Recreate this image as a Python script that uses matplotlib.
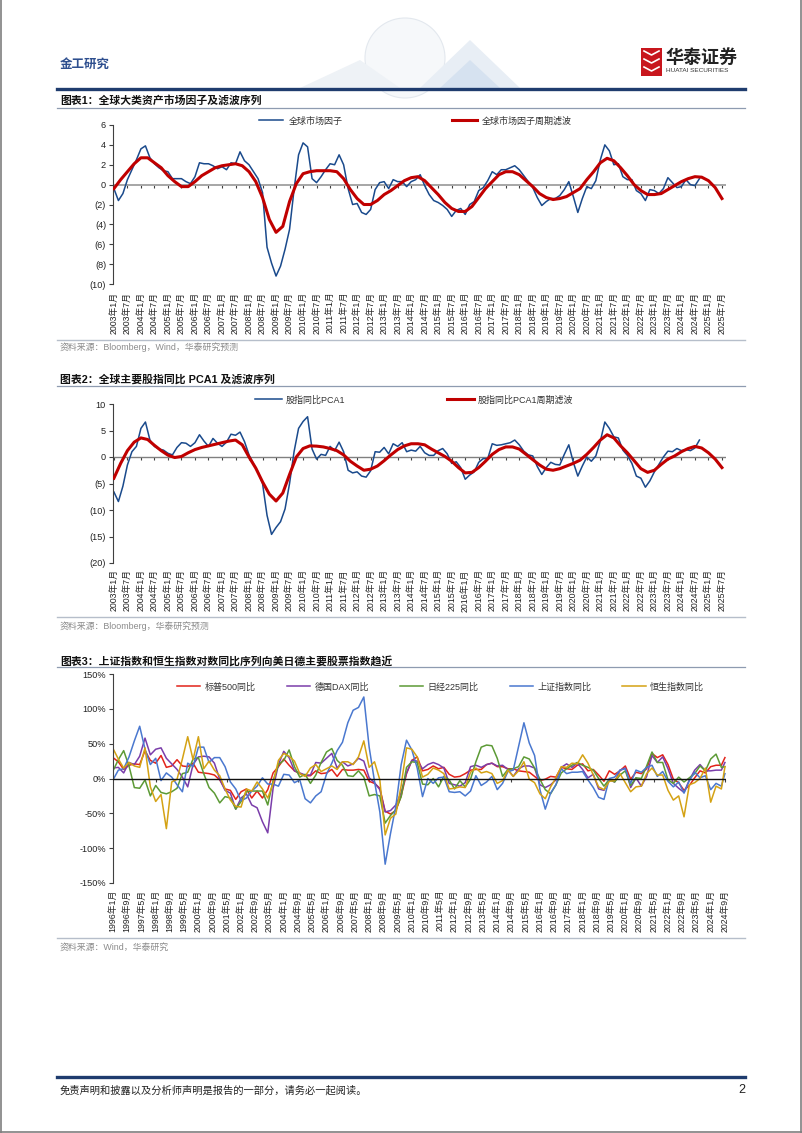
import numpy as np
import matplotlib
matplotlib.use("Agg")
import matplotlib.pyplot as plt
from matplotlib.lines import Line2D
from matplotlib.patches import Rectangle, Ellipse, Polygon

plt.rcParams["font.family"] = ["Liberation Sans", "Noto Sans CJK SC"]
plt.rcParams["axes.unicode_minus"] = False

# ---------------- data ----------------
# chart 1: global market factor (every 2 months from 2003-01) and its cycle filter (every 3 months)
factor = [-0.4, -1.6, -0.9, 0.5, 1.5, 2.5, 3.6, 3.9, 2.7, 2.1,
          1.7, 1.4, 1.3, 0.6, 0.6, 0.6, 0.3, 0.1, 0.8, 2.2,
          2.1, 2.1, 1.9, 1.6, 1.8, 1.5, 2.2, 2.1, 3.3, 2.4,
          2.0, 1.3, 0.6, -0.8, -6.3, -7.9, -9.2, -8.2, -6.5, -4.5,
          -0.5, 3.0, 4.2, 3.8, 0.6, 0.2, 0.8, 1.5, 2.1, 2.0,
          3.0, 2.0, -0.4, -2.0, -1.9, -2.8, -3.0, -2.5, -0.5, 0.2,
          0.3, -0.4, 0.5, 0.3, 0.3, -0.2, 0.3, 0.5, 1.0, -0.1,
          -1.0, -1.6, -1.8, -2.1, -2.5, -3.2, -2.6, -2.4, -3.0, -2.0,
          -1.7, -0.6, -0.3, 0.4, 1.3, 1.0, 1.5, 1.5, 1.7, 1.9,
          1.5, 0.9, 0.3, -0.3, -1.3, -2.1, -1.7, -1.4, -1.4, -1.1,
          -0.5, 0.3, -1.2, -2.8, -1.4, -0.2, -0.4, 0.4, 2.5, 4.0,
          3.4, 2.0, 2.1, 0.8, 0.5, 0.5, -0.6, -0.9, -1.6, -0.5,
          -0.6, -0.9, -0.4, 0.7, 0.2, -0.3, -0.2, 0.5, 0.0, -0.1,
          0.6]
factor_filter = [-0.4, 0.5, 1.3, 2.1, 2.7, 2.7, 2.2, 1.7, 0.9, 0.3,
                 -0.2, -0.2, 0.3, 0.9, 1.3, 1.7, 1.9, 2.0, 2.1, 1.9,
                 1.3, 0.3, -1.3, -3.5, -4.8, -4.2, -1.7, 0.1, 1.1, 1.3,
                 1.4, 1.4, 1.4, 1.3, 0.6, -0.5, -1.4, -2.0, -2.0, -1.6,
                 -1.0, -0.6, -0.1, 0.4, 0.7, 0.8, 0.4, -0.3, -1.0, -1.8,
                 -2.4, -2.7, -2.7, -2.2, -1.3, -0.4, 0.3, 1.0, 1.3, 1.3,
                 1.0, 0.4, -0.2, -0.9, -1.3, -1.5, -1.4, -1.2, -0.8, -0.4,
                 0.5, 1.3, 2.2, 2.65, 2.4, 1.7, 0.9, 0.0, -0.6, -1.0,
                 -1.0, -0.9, -0.5, -0.1, 0.3, 0.6, 0.8, 0.75, 0.4, -0.3,
                 -1.4]

# chart 2: stock index YoY PCA1 (every 2 months from 2003-01) and its cycle filter (every 3 months)
pca1 = [-6.6, -8.4, -5.5, -1.5, 1.0, 2.0, 5.4, 6.6, 3.2, 2.0,
        1.5, 1.3, 0.7, 0.4, 1.8, 2.7, 2.6, 2.0, 2.7, 4.2,
        3.0, 2.0, 3.5, 2.6, 2.0, 2.8, 4.3, 4.1, 4.7, 2.9,
        0.4, -1.3, -2.8, -5.0, -11.0, -14.6, -13.3, -12.2, -9.8, -5.0,
        1.0, 5.4, 6.7, 7.6, 1.5, -0.4, 0.5, 0.3, 2.0, 1.2,
        2.8, 1.0, -2.5, -3.0, -2.8, -3.6, -3.8, -2.6, 1.0, 0.9,
        1.8, 0.6, 2.5, 2.0, 2.7, 1.0, 1.3, 1.1, 2.0, 0.8,
        0.3, 0.3, 1.2, 1.6, 0.6, -1.2, -0.9, -2.0, -4.2, -3.4,
        -2.8, -1.0, -0.3, -0.3, 2.5, 2.2, 2.3, 2.5, 2.7, 3.2,
        2.3, 1.1, 0.4, 0.2, -1.8, -3.3, -2.0, -1.0, -1.4, -1.5,
        0.5, 2.3, -1.0, -3.6, -1.7, 0.0, -0.8, 0.2, 3.0, 6.6,
        5.4, 3.8, 3.6, 1.3, 0.3, -1.2, -3.6, -4.0, -5.7, -4.5,
        -2.8, -1.4, 0.0, 1.1, 1.0, 1.6, 1.2, 1.4, 1.2, 1.7,
        3.2]
pca1_filter = [-4.0, -1.2, 1.2, 2.8, 3.6, 3.3, 2.2, 1.2, 0.35, -0.1,
               0.1, 0.8, 1.4, 1.8, 2.1, 2.4, 2.7, 3.0, 3.2, 2.3,
               0.0, -2.1, -4.7, -7.0, -8.3, -6.8, -3.3, 0.0, 1.6, 2.1,
               2.05, 1.9, 1.6, 1.2, 0.4, -0.8, -1.7, -2.5, -2.3, -1.7,
               -0.7, 0.4, 1.4, 2.1, 2.5, 2.5, 2.3, 1.5, 0.8, 0.1,
               -0.8, -2.0, -3.0, -2.9, -2.0, -0.8, 0.5, 1.4, 1.9, 1.9,
               1.5, 0.5, -0.5, -1.5, -2.3, -2.5, -2.2, -1.7, -1.2, -0.6,
               0.5, 1.8, 3.2, 4.2, 3.6, 2.1, 0.8, -0.7, -2.2, -2.9,
               -2.5, -1.4, -0.4, 0.2, 1.0, 1.6, 2.0, 1.7, 0.8, -0.4,
               -2.0]

# chart 3: log YoY (%), Jan/Apr/Jul/Oct from 1996-01, last point 2024-09
spx_yoy = [30, 24, 13, 19, 21, 20, 40, 26, 22, 33, 16, 18, 27, 18, 17, 22,
           9, 8, 7, 5, -2, -15, -17, -30, -19, -15, -28, -18, -28, -16, 8, 17,
           28, 19, 11, 7, 4, 4, 11, 7, 8, 13, 3, 13, 12, 12, 13, 12,
           -4, -7, -14, -47, -51, -46, -25, 7, 26, 31, 11, 13, 18, 14, 16, 6,
           2, 3, 7, 12, 13, 13, 20, 22, 17, 17, 14, 14, 11, 10, 9, 3,
           -3, -1, 3, 2, 16, 14, 13, 19, 21, 11, 13, 5, -4, 11, 6, 11,
           18, -1, 9, 7, 14, 36, 30, 34, 20, -1, -6, -17, -10, 1, 11, 8,
           17, 19, 19, 30]
dax_yoy = [15, 16, 8, 23, 20, 32, 58, 34, 42, 44, 29, 21, 13, 2, -12, 20,
           31, 32, 31, 22, -1, -17, -21, -44, -28, -22, -38, -42, -62, -78, -14, 20,
           39, 30, 11, 8, 5, 5, 23, 22, 29, 36, 15, 24, 18, 21, 29, 25,
           1, -6, -16, -48, -46, -38, -20, 8, 26, 25, 14, 20, 23, 20, 15, -7,
           -9, -11, -6, 17, 19, 16, 20, 22, 18, 19, 13, 3, 14, 18, 18, 15,
           -9, -13, -9, -2, 16, 21, 16, 22, 13, 1, 6, -15, -17, -2, -5, 12,
           15, -13, 1, -11, 3, 33, 23, 31, 14, -7, -14, -20, -2, 12, 20, 11,
           11, 12, 12, 23]
n225_yoy = [11, 27, 40, 18, -13, -14, -2, -25, -10, -20, -22, -19, -14, 7, 9, 28,
            30, 7, -13, -21, -35, -26, -28, -44, -33, -19, -18, -18, -18, -38, -3, 20,
            26, 41, 17, 2, 6, -7, 5, 23, 38, 43, 26, 19, 4, 3, 11, 2,
            -25, -23, -25, -64, -53, -45, -26, 16, 24, 23, -8, -9, 0, -12, 3, -2,
            -15, -3, -12, -1, 24, 45, 48, 47, 29, 3, 13, 14, 17, 31, 28, 15,
            -1, -16, -22, -9, 8, 14, 19, 23, 19, 16, 12, 0, -11, -1, -5, 5,
            11, -10, 1, 0, 18, 38, 23, 23, -2, -7, 2, -5, 1, 7, 18, 11,
            28, 35, 16, 17]
sh_yoy = [-2, 12, 14, 31, 54, 75, 42, 20, 29, -3, 8, 2, -9, -19, 22, 17,
          45, 45, 23, 30, 30, 17, -5, -15, -32, -28, -18, -11, 1, -8, -8, -11,
          6, 5, -6, -2, -29, -35, -25, -19, 6, 22, 40, 52, 80, 98, 102, 117,
          45, -4, -48, -123, -79, -40, 20, 55, 41, 15, -26, 0, -7, 1, 2, -19,
          -20, -19, -25, -18, 4, -10, -5, 3, -16, -7, 10, 12, 46, 80, 51, 33,
          -16, -44, -21, -9, 14, 7, 9, 9, 10, -2, -13, -27, -30, 0, 2, 12,
          14, -7, 12, 9, 16, 19, 3, 10, -4, -12, -5, -21, -3, 9, 1, 4,
          -16, -7, -11, 7]
hsi_yoy = [43, 28, 15, 23, 18, 16, 44, -12, -33, -23, -72, -5, -1, 28, 60, 27,
           60, 14, 25, 12, 4, -15, -31, -40, -41, -15, -18, -5, -15, -28, -7, 26,
           36, 32, 25, 7, 3, 15, 20, 10, 14, 18, 13, 24, 24, 20, 31, 54,
           16, 24, -2, -81, -57, -51, -10, 44, 42, 31, 2, 6, 15, 12, 7, -15,
           -14, -12, -13, 9, 15, 8, 10, 7, -7, -3, 12, 3, 11, 24, -1, -6,
           -22, -29, -12, 1, 17, 16, 22, 21, 34, 22, 5, -12, -16, -4, -3, 7,
           -6, -19, -12, -11, 7, 15, 5, 5, -17, -31, -25, -55, -9, -6, 0, 15,
           -34, -11, -15, 17]

labels_c12 = [f"{2003 + i // 2}年{7 if i % 2 else 1}月" for i in range(46)]
labels_c3 = [f"{1996 + m // 12}年{m % 12 + 1}月" for m in range(0, 345, 8)]
yt1, yl1 = [6, 4, 2, 0, -2, -4, -6, -8, -10], ["6", "4", "2", "0", "(2)", "(4)", "(6)", "(8)", "(10)"]
yt2, yl2 = [10, 5, 0, -5, -10, -15, -20], ["10", "5", "0", "(5)", "(10)", "(15)", "(20)"]
yt3, yl3 = [150, 100, 50, 0, -50, -100, -150], ["150%", "100%", "50%", "0%", "-50%", "-100%", "-150%"]

# x positions in months
m_bi = np.arange(0, 261, 2)
m_q = np.arange(0, 271, 3)
m_c3 = np.append(np.arange(0, 343, 3), 344)

W, H = 802, 1133
NAVY = "#1F3C6E"


def fx(x):
    return x / W


def fy(y):
    return 1 - y / H


fig = plt.figure(figsize=(W / 100, H / 100), dpi=100)


def hline(y, x0, x1, color, lw):
    fig.add_artist(Line2D([fx(x0), fx(x1)], [fy(y), fy(y)], color=color, lw=lw))


def setup(ax, ylim, yt, yl, xlim, xt, xl, zc, zlw, zticks, pad, zz):
    ax.set_xlim(*xlim)
    ax.set_ylim(*ylim)
    for s in ["top", "right", "bottom"]:
        ax.spines[s].set_visible(False)
    ax.spines["left"].set_color("#404040")
    ax.spines["left"].set_linewidth(0.8)
    ax.set_yticks(yt)
    ax.set_yticklabels(yl, fontsize=6.6, color="#222222")
    ax.tick_params(axis="y", length=3, width=0.8, color="#404040", pad=2)
    ax.set_xticks(xt)
    ax.set_xticklabels(xl, rotation=90, fontsize=6.3, color="#222222")
    ax.tick_params(axis="x", length=0, pad=pad)
    ax.axhline(0, color=zc, lw=zlw, zorder=zz)
    frac = (0 - ylim[0]) / (ylim[1] - ylim[0])
    sec = ax.secondary_xaxis(frac)
    sec.set_alignment("bottom")
    sec.spines["bottom"].set_visible(False)
    sec.set_xticks(zticks)
    sec.set_xticklabels([])
    sec.tick_params(length=2.5, width=0.8, color="#404040")
    ax.patch.set_alpha(0)


# ---------------- header / footer ----------------
fig.add_artist(Ellipse((fx(405), fy(58)), 80 / W, 80 / H, facecolor="#F6F8FA",
                       edgecolor="#E3E8EE", lw=0.8))
fig.add_artist(Polygon([[fx(300), fy(88)], [fx(360), fy(60)], [fx(400), fy(88)]],
                       closed=True, facecolor="#EEF2F6", edgecolor="none"))
fig.add_artist(Polygon([[fx(420), fy(88)], [fx(470), fy(40)], [fx(520), fy(88)]],
                       closed=True, facecolor="#E8EEF5", edgecolor="none"))
fig.add_artist(Polygon([[fx(440), fy(88)], [fx(470), fy(60)], [fx(500), fy(88)]],
                       closed=True, facecolor="#D6E2F0", edgecolor="none"))
fig.text(fx(60), fy(65), "金工研究", fontsize=9, color="#2E4F8F", weight="bold", va="center")
fig.add_artist(Rectangle((fx(641), fy(76)), 21 / W, 28 / H, facecolor="#C8161D", edgecolor="none"))
for yy in (55, 63, 71):
    fig.add_artist(Line2D([fx(644), fx(651.5), fx(659)], [fy(yy - 4), fy(yy), fy(yy - 4)],
                          color="white", lw=1.2))
fig.text(fx(666), fy(58), "华泰证券", fontsize=13, weight="bold", color="#222222", va="center")
fig.text(fx(666), fy(71), "HUATAI SECURITIES", fontsize=4.6, color="#333333", va="center")
hline(89, 57, 745, NAVY, 2.4)

hline(1077, 57, 745, NAVY, 2.4)
fig.text(fx(60), fy(1090), "免责声明和披露以及分析师声明是报告的一部分，请务必一起阅读。",
         fontsize=7.4, color="#222222", va="center", style="italic")
fig.text(fx(745), fy(1090), "2", fontsize=9, color="#222222", va="center", ha="right")

# page border
for xs, ys in (([0.5, 0.5], [0, H]), ([W - 1, W - 1], [0, H]), ([0, W], [H - 1, H - 1])):
    fig.add_artist(Line2D([fx(v) for v in xs], [fy(v) for v in ys], color="#7F7F7F", lw=1.2))

# section titles / separators / sources
titles = [(100, "图表1：全球大类资产市场因子及滤波序列"),
          (379, "图表2：全球主要股指同比 PCA1 及滤波序列"),
          (661, "图表3：上证指数和恒生指数对数同比序列向美日德主要股票指数趋近")]
for y, t in titles:
    fig.text(fx(60), fy(y), t, fontsize=7.8, weight="bold", color="#111111", va="center")
for y in (108, 386, 667):
    hline(y, 57, 745, "#8E9BB0", 0.9)
for y in (340, 617, 938):
    hline(y, 57, 745, "#B6BECA", 1.0)
sources = [(347, "资料来源：Bloomberg，Wind，华泰研究预测"),
           (626, "资料来源：Bloomberg，华泰研究预测"),
           (947, "资料来源：Wind，华泰研究")]
for y, t in sources:
    fig.text(fx(60), fy(y), t, fontsize=6.4, color="#8A8A8A", va="center")

BLUE = "#1A4A8C"
RED = "#C00000"

# ---------------- chart 1 ----------------
ax1 = fig.add_axes([fx(113), fy(284), 613 / W, 159 / H])
setup(ax1, (-10, 6), yt1, yl1, (-0.4, 271.8), np.arange(0, 271, 6), labels_c12,
      "#A6A6A6", 1.4, np.arange(0, 271, 6), 5.5, 1)
ax1.plot(m_bi, factor, color=BLUE, lw=1.1, label="全球市场因子", zorder=2)
ax1.plot(m_q, factor_filter, color=RED, lw=2.2, label="全球市场因子周期滤波", zorder=3)
ax1.legend(loc="center left", bbox_to_anchor=(fx(259), fy(121)), bbox_transform=fig.transFigure,
           ncol=2, frameon=False, fontsize=6.5, handlelength=2.7, handletextpad=0.55,
           columnspacing=12.2, borderpad=0, borderaxespad=0, labelcolor="#333333")

# ---------------- chart 2 ----------------
ax2 = fig.add_axes([fx(113), fy(563), 613 / W, 159 / H])
setup(ax2, (-20, 10), yt2, yl2, (-0.4, 271.8), np.arange(0, 271, 6), labels_c12,
      "#808080", 1.0, np.arange(0, 271, 6), 4.5, 1)
ax2.plot(m_bi, pca1, color=BLUE, lw=1.1, label="股指同比PCA1", zorder=2)
ax2.plot(m_q, pca1_filter, color=RED, lw=2.2, label="股指同比PCA1周期滤波", zorder=3)
ax2.legend(loc="center left", bbox_to_anchor=(fx(255), fy(400)), bbox_transform=fig.transFigure,
           ncol=2, frameon=False, fontsize=6.5, handlelength=3.0, handletextpad=0.4,
           columnspacing=11.3, borderpad=0, borderaxespad=0, labelcolor="#333333")

# ---------------- chart 3 ----------------
ax3 = fig.add_axes([fx(113), fy(883), 613 / W, 209 / H])
xt3 = np.arange(0, 345, 8)
setup(ax3, (-150, 150), yt3, yl3, (0, 344.6), xt3, labels_c3,
      "#111111", 1.0, xt3[3::5], 5.0, 3)
series3 = [(spx_yoy, "#E2231A", "标普500同比"),
           (dax_yoy, "#7A3DAA", "德国DAX同比"),
           (n225_yoy, "#5C9A35", "日经225同比"),
           (sh_yoy, "#4A78CF", "上证指数同比"),
           (hsi_yoy, "#D4A214", "恒生指数同比")]
for vals, c, lab in series3:
    ax3.plot(m_c3, vals, color=c, lw=1.1, label=lab, zorder=2)
ax3.legend(loc="center left", bbox_to_anchor=(fx(177), fy(687)), bbox_transform=fig.transFigure,
           ncol=5, frameon=False, fontsize=6.5, handlelength=2.6, handletextpad=0.5,
           columnspacing=3.4, borderpad=0, borderaxespad=0, labelcolor="#333333")

fig.savefig("out.png", dpi=100)
